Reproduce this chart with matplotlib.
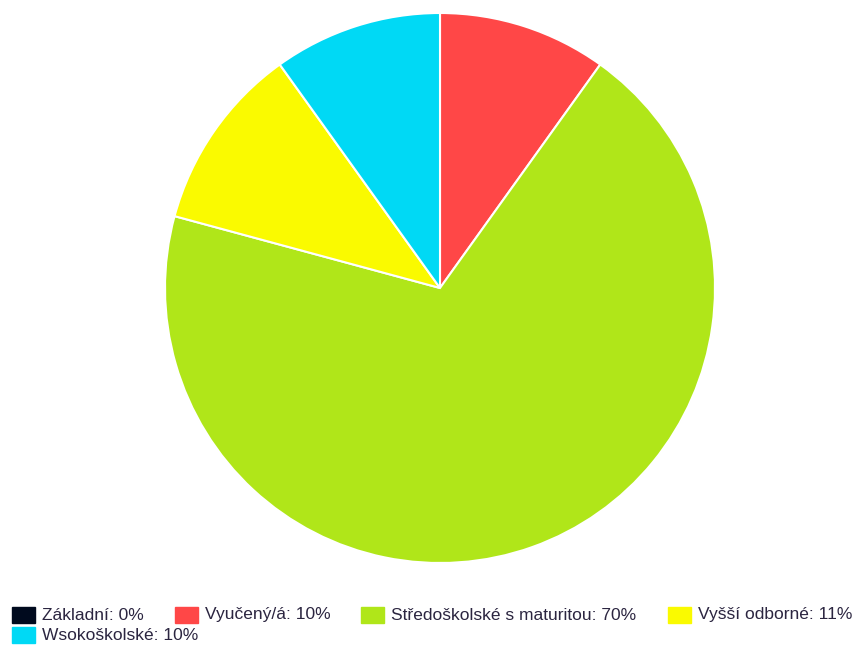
import matplotlib.pyplot as plt
from matplotlib.patches import Rectangle

labels = ["Základní", "Vyučený/á", "Středoškolské s maturitou", "Vyšší odborné", "Wsokoškolské"]
percents = [0, 10, 70, 11, 10]
colors = ["#000a1e", "#ff4747", "#b0e619", "#fafa00", "#00d9f5"]

W, H = 866, 645
fig = plt.figure(figsize=(W / 100, H / 100), dpi=100)

# pie: center (440, 288) px, radius 275 px
cx, cy, r = 440, 288, 275
ax = fig.add_axes([(cx - r) / W, (H - cy - r) / H, 2 * r / W, 2 * r / H])
ax.pie(
    percents,
    colors=colors,
    startangle=90,
    counterclock=False,
    radius=1.0,
    wedgeprops={"edgecolor": "white", "linewidth": 1.5},
)
ax.set_xlim(-1, 1)
ax.set_ylim(-1, 1)
ax.set_aspect("auto")
ax.axis("off")

# legend drawn by hand, flowing left to right and wrapping
renderer = fig.canvas.get_renderer()
x, row_top = 12, 607
box_w, box_h, text_gap, item_gap, row_h = 23, 16, 7, 31, 20
for name, pct, color in zip(labels, percents, colors):
    label = f"{name}: {pct}%"
    t = fig.text(0, 0, label, fontsize=12.5, family="Liberation Sans",
                 color="#2b2540", va="center", ha="left")
    tw = t.get_window_extent(renderer).width
    if x + box_w + text_gap + tw > W:
        x = 12
        row_top += row_h
    fig.patches.append(Rectangle((x / W, (H - row_top - box_h) / H), box_w / W, box_h / H,
                                 transform=fig.transFigure, color=color, figure=fig))
    t.set_position(((x + box_w + text_gap) / W, (H - row_top - box_h / 2) / H))
    x += box_w + text_gap + tw + item_gap

fig.savefig("out.png", dpi=100)
